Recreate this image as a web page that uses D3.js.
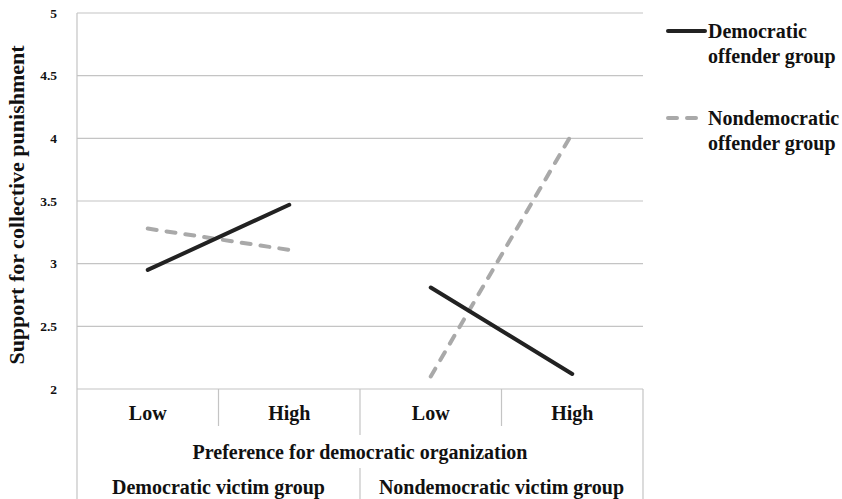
<!DOCTYPE html>
<html><head><meta charset="utf-8">
<script src="https://cdn.jsdelivr.net/npm/d3@7"></script>
<style>body{margin:0;background:#fff}svg{display:block}text{font-family:"Liberation Serif","Times New Roman",serif;font-weight:bold;fill:#111}</style>
</head><body><svg id="c" width="842" height="499"></svg>
<script>
const categories = ["Low","High","Low","High"];
const victimGroups = ["Democratic victim group","Nondemocratic victim group"];
const democraticOffender = [2.95, 3.47, 2.81, 2.12];
const nondemocraticOffender = [3.28, 3.11, 2.10, 4.04];
const yTicks = [2, 2.5, 3, 3.5, 4, 4.5, 5];
const seriesNames = [["Democratic","offender group"],["Nondemocratic","offender group"]];
const xTitle = "Preference for democratic organization";
const yTitle = "Support for collective punishment";

const svg = d3.select("#c");
const L = 77, R = 643, T = 13, B = 389;
const x = d3.scaleBand().domain(d3.range(categories.length)).range([L, R]);
const y = d3.scaleLinear().domain([2, 5]).range([B, T]);
const grid = "#c4c4c4";

svg.append("g").selectAll("line").data(yTicks).join("line")
  .attr("x1", L).attr("x2", R).attr("y1", d => y(d)).attr("y2", d => y(d))
  .attr("stroke", grid).attr("stroke-width", 1.2);
svg.append("line").attr("x1", L).attr("x2", L).attr("y1", T).attr("y2", 499).attr("stroke", grid).attr("stroke-width", 1.2);
svg.append("line").attr("x1", R).attr("x2", R).attr("y1", B).attr("y2", 499).attr("stroke", grid).attr("stroke-width", 1.2);
svg.append("g").selectAll("text").data(yTicks).join("text")
  .attr("x", 57).attr("y", d => y(d)).attr("dy", "0.35em").attr("text-anchor", "end")
  .style("font-size", "13.5px").text(d => d);
svg.append("text").attr("transform", `translate(24,${(T+B)/2+4}) rotate(-90)`)
  .attr("text-anchor", "middle").style("font-size", "22px").text(yTitle);

[1, 3].forEach(i => {
  svg.append("line").attr("x1", x(i)).attr("x2", x(i)).attr("y1", B).attr("y2", 426).attr("stroke", grid).attr("stroke-width", 1.2);
});
svg.append("line").attr("x1", x(2)).attr("x2", x(2)).attr("y1", B).attr("y2", 435).attr("stroke", grid).attr("stroke-width", 1.2);
svg.append("line").attr("x1", x(2)).attr("x2", x(2)).attr("y1", 468).attr("y2", 499).attr("stroke", grid).attr("stroke-width", 1.2);

svg.append("g").selectAll("text").data(categories).join("text")
  .attr("x", (d, i) => x(i) + x.bandwidth()/2).attr("y", 413).attr("dy", "0.35em")
  .attr("text-anchor", "middle").style("font-size", "20px").text(d => d);
svg.append("text").attr("x", (L+R)/2).attr("y", 452).attr("dy", "0.35em")
  .attr("text-anchor", "middle").style("font-size", "20px").text(xTitle);
svg.append("g").selectAll("text").data(victimGroups).join("text")
  .attr("x", (d, i) => L + (R-L)/4 * (2*i+1)).attr("y", 487).attr("dy", "0.35em")
  .attr("text-anchor", "middle").style("font-size", "20px").text(d => d);

const line = d3.line().x(d => x(d.i) + x.bandwidth()/2).y(d => y(d.v));
function seg(vals, style) {
  [[0,1],[2,3]].forEach(pair => {
    const pts = pair.map(i => ({i, v: vals[i]}));
    const p = svg.append("path").attr("d", line(pts)).attr("fill", "none")
      .attr("stroke", style.color).attr("stroke-width", 4).attr("stroke-linecap", "round");
    if (style.dash) p.attr("stroke-dasharray", style.dash);
  });
}
const styles = [{color: "#222"}, {color: "#a9a9a9", dash: "9,10"}];
seg(nondemocraticOffender, styles[1]);
seg(democraticOffender, styles[0]);

const legY = [31, 118];
seriesNames.forEach((nm, k) => {
  const p = svg.append("line").attr("x1", 668).attr("x2", 705).attr("y1", legY[k]).attr("y2", legY[k])
    .attr("stroke", styles[k].color).attr("stroke-width", 4).attr("stroke-linecap", "round");
  if (styles[k].dash) p.attr("stroke-dasharray", "9,10");
  nm.forEach((t, j) => {
    svg.append("text").attr("x", 708).attr("y", legY[k] + j*25).attr("dy", "0.35em")
      .style("font-size", "20px").text(t);
  });
});
</script></body></html>
